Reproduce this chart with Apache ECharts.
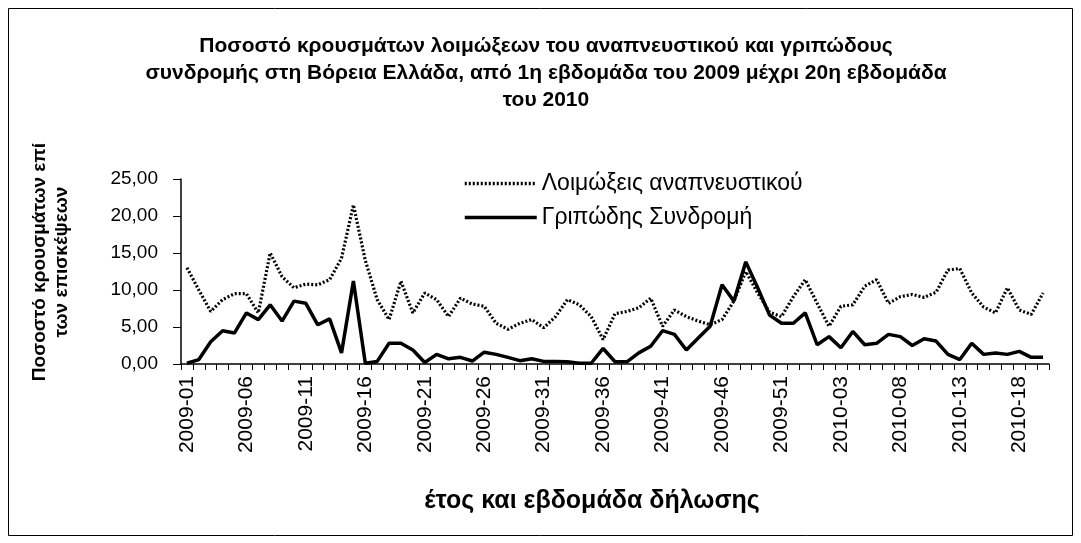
<!DOCTYPE html>
<html>
<head>
<meta charset="utf-8">
<script src="https://cdn.jsdelivr.net/npm/echarts@6/dist/echarts.min.js"></script>
<style>
html,body{margin:0;padding:0;background:#fff;}
#chart{width:1081px;height:543px;}
</style>
</head>
<body>
<div id="chart"></div>
<script>
// Categories: weeks 2009-01..2009-53, 2010-01..2010-20
const years = [2009, 2010];
const weeksPerYear = [53, 20];
const categories = [];
years.forEach((y, k) => {
  for (let w = 1; w <= weeksPerYear[k]; w++) categories.push(y + '-' + (w < 10 ? '0' + w : '' + w));
});

const titleText = 'Ποσοστό κρουσμάτων λοιμώξεων του αναπνευστικού και γριπώδους\nσυνδρομής στη Βόρεια Ελλάδα, από 1η εβδομάδα του 2009 μέχρι 20η εβδομάδα\nτου 2010';
const yAxisTitle = 'Ποσοστό κρουσμάτων επί\nτων επισκέψεων';
const xAxisTitle = 'έτος και εβδομάδα δήλωσης';
const seriesNames = ['Λοιμώξεις αναπνευστικού', 'Γριπώδης Συνδρομή'];

const respiratory = [
  13.0, 10.0, 7.1, 8.7, 9.5, 9.5, 6.9, 15.0, 11.8, 10.3,
  10.8, 10.7, 11.4, 14.3, 21.5, 14.0, 8.7, 6.0, 11.2, 6.9,
  9.6, 8.7, 6.4, 8.9, 8.1, 7.8, 5.5, 4.7, 5.5, 6.0,
  4.9, 6.4, 8.7, 8.0, 6.4, 3.3, 6.8, 7.1, 7.6, 8.9,
  5.1, 7.3, 6.4, 5.8, 5.3, 6.0, 8.5, 12.5, 9.6, 7.0,
  6.4, 9.1, 11.4, 8.2, 5.1, 7.8, 8.0, 10.5, 11.4, 8.2,
  9.1, 9.4, 9.0, 9.7, 12.7, 12.9, 9.6, 7.7, 6.9, 10.3,
  7.3, 6.7, 9.6
];
const influenza = [
  0.1, 0.6, 3.0, 4.5, 4.2, 6.9, 6.0, 8.0, 5.8, 8.5,
  8.2, 5.3, 6.1, 1.5, 11.2, 0.1, 0.35, 2.8, 2.8, 1.9,
  0.2, 1.3, 0.7, 0.9, 0.4, 1.6, 1.3, 0.9, 0.45, 0.7,
  0.35, 0.35, 0.3, 0.1, 0.1, 2.1, 0.3, 0.3, 1.5, 2.4,
  4.5, 4.0, 1.9, 3.5, 5.1, 10.7, 8.5, 13.8, 10.3, 6.6,
  5.5, 5.5, 6.9, 2.6, 3.7, 2.2, 4.4, 2.6, 2.8, 4.0,
  3.7, 2.5, 3.4, 3.1, 1.3, 0.6, 2.8, 1.3, 1.5, 1.3,
  1.7, 0.9, 0.9
];

const FONT = 'Liberation Sans, Arial, sans-serif';
const chart = echarts.init(document.getElementById('chart'), null, {renderer: 'canvas'});
chart.setOption({
  animation: false,
  backgroundColor: '#fff',
  title: {
    text: titleText,
    left: 541, top: 28, textAlign: 'center',
    textStyle: {fontFamily: FONT, fontWeight: 'bold', fontSize: 21, lineHeight: 27, color: '#000'}
  },
  legend: {
    orient: 'vertical',
    left: 458, top: 167,
    itemWidth: 72, itemHeight: 24, itemGap: 11,
    itemStyle: {opacity: 0},
    lineStyle: {width: 3.5},
    textStyle: {fontFamily: FONT, fontSize: 23, color: '#000'},
    data: [seriesNames[0], seriesNames[1]]
  },
  grid: {left: 181, right: 32, top: 179, bottom: 179, containLabel: false},
  xAxis: {
    type: 'category',
    data: categories,
    boundaryGap: true,
    axisLine: {lineStyle: {color: '#000', width: 1.5}},
    axisTick: {show: true, interval: 0, length: 6, lineStyle: {color: '#000', width: 1}},
    axisLabel: {interval: 4, rotate: 90, fontFamily: FONT, fontSize: 21, color: '#000', margin: 12},
    splitLine: {show: false}
  },
  yAxis: {
    type: 'value',
    min: 0, max: 25, interval: 5,
    axisLine: {show: true, lineStyle: {color: '#000', width: 1.5}},
    axisTick: {show: true, length: 8, lineStyle: {color: '#000', width: 1}},
    axisLabel: {fontFamily: FONT, fontSize: 19, color: '#000', margin: 23,
      formatter: v => v.toFixed(2).replace('.', ',')},
    splitLine: {show: false}
  },
  series: [
    {
      name: seriesNames[0], type: 'line', data: respiratory,
      symbol: 'none', smooth: false,
      lineStyle: {color: '#000', width: 3.2, type: [2, 2]},
      itemStyle: {color: '#000'}
    },
    {
      name: seriesNames[1], type: 'line', data: influenza,
      symbol: 'none', smooth: false,
      lineStyle: {color: '#000', width: 3.5, type: 'solid'},
      itemStyle: {color: '#000'}
    }
  ],
  graphic: [
    {
      type: 'rect', silent: true,
      shape: {x: 8.5, y: 8.5, width: 1064, height: 527},
      style: {fill: 'none', stroke: '#000', lineWidth: 1}
    },
    {
      type: 'text', silent: true,
      x: 51, y: 262, rotation: Math.PI / 2,
      style: {text: yAxisTitle, fontFamily: FONT, fontWeight: 'bold', fontSize: 19, lineHeight: 22,
        fill: '#000', align: 'center', verticalAlign: 'middle'}
    },
    {
      type: 'text', silent: true,
      x: 592, y: 501,
      style: {text: xAxisTitle, fontFamily: FONT, fontWeight: 'bold', fontSize: 25,
        fill: '#000', align: 'center', verticalAlign: 'middle'}
    }
  ]
});
</script>
</body>
</html>
